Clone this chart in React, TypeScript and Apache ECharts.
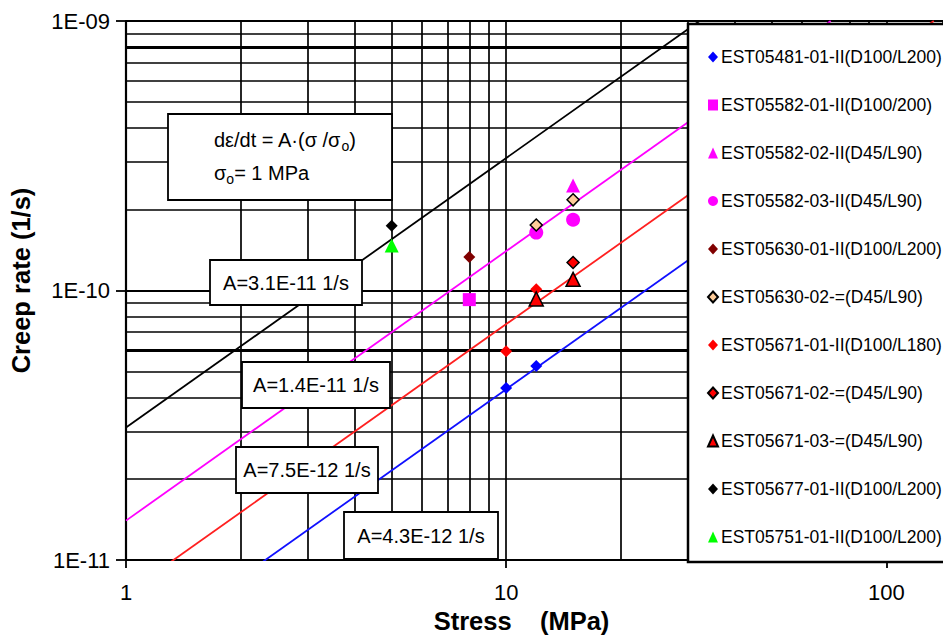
import React, { useEffect, useRef } from 'react';
import * as echarts from 'echarts';

// ---------- data ----------
const seriesNames = [
  'EST05481-01-II(D100/L200)',
  'EST05582-01-II(D100/200)',
  'EST05582-02-II(D45/L90)',
  'EST05582-03-II(D45/L90)',
  'EST05630-01-II(D100/L200)',
  'EST05630-02-=(D45/L90)',
  'EST05671-01-II(D100/L180)',
  'EST05671-02-=(D45/L90)',
  'EST05671-03-=(D45/L90)',
  'EST05677-01-II(D100/L200)',
  'EST05751-01-II(D100/L200)',
];
const seriesStress = [
  [10, 12],
  [8],
  [15],
  [12, 15],
  [8],
  [12, 15],
  [10, 12],
  [15],
  [12, 15],
  [5],
  [5],
];
const seriesRate = [
  [4.35e-11, 5.25e-11],
  [9.25e-11],
  [2.45e-10],
  [1.64e-10, 1.83e-10],
  [1.33e-10],
  [1.75e-10, 2.17e-10],
  [5.95e-11, 1.01e-10],
  [1.27e-10],
  [9.3e-11, 1.1e-10],
  [1.74e-10],
  [1.47e-10],
];
const seriesSymbols = ['diamond', 'rect', 'triangle', 'circle', 'diamond', 'diamond', 'diamond', 'diamond', 'triangle', 'diamond', 'triangle'];
const seriesColors = ['#0000ff', '#ff00ff', '#ff00ff', '#ff00ff', '#800000', '#ffcc99', '#ff0000', '#ff0000', '#ff0000', '#000000', '#00ff00'];
const seriesOutlined = [false, false, false, false, false, true, false, true, true, false, false];

// fitted lines: rate = A * (stress / 1 MPa)
const fitA = [3.1e-11, 1.4e-11, 7.5e-12, 4.3e-12];
const fitLabels = ['A=3.1E-11 1/s', 'A=1.4E-11 1/s', 'A=7.5E-12 1/s', 'A=4.3E-12 1/s'];
const fitColors = ['#000000', '#ff00ff', '#ff2020', '#1010ff'];
const fitStressRange = [1, 141];

// axes
const xRange = [1, 141];
const yRange = [1e-11, 1e-9];
const xMinorGrid = [2, 3, 4, 5, 6, 7, 8, 9, 20, 30, 40, 50, 60, 70, 80, 90];
const yMinorGrid = [2e-11, 3e-11, 4e-11, 5e-11, 6e-11, 7e-11, 8e-11, 9e-11, 2e-10, 3e-10, 4e-10, 5e-10, 6e-10, 7e-10, 8e-10, 9e-10];
const yHeavyGrid = [6e-11, 8e-10];

const FONT = 'Liberation Sans, Arial, Helvetica, sans-serif';

export default function App() {
  const ref = useRef<HTMLDivElement>(null);

  useEffect(() => {
    if (!ref.current) return;
    const chart = echarts.init(ref.current, undefined, { renderer: 'svg' });

    const symbolSize = (s: string) => (s === 'diamond' ? 12 : s === 'rect' ? 13 : 14);

    const scatterSeries = seriesNames.map((name, i) => ({
      name,
      type: 'scatter',
      z: 10,
      symbol: seriesSymbols[i],
      symbolSize: symbolSize(seriesSymbols[i]),
      itemStyle: {
        color: seriesColors[i],
        borderColor: seriesOutlined[i] ? '#000' : seriesColors[i],
        borderWidth: seriesOutlined[i] ? 1.5 : 0,
        opacity: 1,
      },
      data: seriesStress[i].map((s, j) => [s, seriesRate[i][j]]),
    }));

    const fitSeries = fitA.map((a, i) => {
      const sEnd = Math.min(fitStressRange[1], yRange[1] / a);
      return {
        name: fitLabels[i],
        type: 'line',
        z: 5,
        symbol: 'none',
        lineStyle: { color: fitColors[i], width: 1.8 },
        data: [fitStressRange[0], sEnd].map((s) => [s, a * s]),
      };
    });

    const gridLine = { color: '#000', width: 1.7, type: 'solid' };
    const gridSeries = {
      name: 'grid',
      type: 'line',
      z: 1,
      data: [],
      markLine: {
        silent: true,
        z: 1,
        symbol: ['none', 'none'],
        label: { show: false },
        lineStyle: gridLine,
        emphasis: { disabled: true },
        data: [
          ...xMinorGrid.map((v) => [{ coord: [v, yRange[0]] }, { coord: [v, yRange[1]] }]),
          ...yMinorGrid.map((v) => [
            { coord: [xRange[0], v], lineStyle: { ...gridLine, width: yHeavyGrid.includes(v) ? 3 : 1.7 } },
            { coord: [xRange[1], v] },
          ]),
        ],
      },
    };

    const boxText = (x: number, y: number, w: number, h: number, text: string) => [
      {
        type: 'rect',
        z: 8,
        shape: { x, y, width: w, height: h },
        style: { fill: '#fff', stroke: '#000', lineWidth: 1.8 },
      },
      {
        type: 'text',
        z: 9,
        x: x + w / 2,
        y: y + h / 2,
        style: { text, fontSize: 20, fontFamily: FONT, fill: '#000', align: 'center', verticalAlign: 'middle' },
      },
    ];

    const rich = {
      a: { fontSize: 20, fontFamily: FONT, lineHeight: 26, verticalAlign: 'middle', fill: '#000' },
      b: { fontSize: 14, fontFamily: FONT, lineHeight: 14, verticalAlign: 'bottom', fill: '#000' },
    };

    const option = {
      animation: false,
      grid: { left: 124, top: 21, right: 0, bottom: 73, containLabel: false },
      xAxis: {
        type: 'log',
        logBase: 10,
        min: xRange[0],
        max: xRange[1],
        name: 'Stress    (MPa)',
        nameLocation: 'middle',
        nameGap: 48,
        nameTextStyle: { fontSize: 25.5, fontWeight: 'bold', fontFamily: FONT, color: '#000', padding: [0, 26, 0, 0] },
        axisLine: { show: true, lineStyle: { color: '#000', width: 2.2 } },
        axisTick: { show: true, length: 8, inside: false, lineStyle: { color: '#000', width: 1.8 } },
        minorTick: { show: false },
        splitLine: { show: true, lineStyle: { color: '#000', width: 1.7 } },
        axisLabel: {
          fontSize: 22,
          fontFamily: FONT,
          color: '#000',
          margin: 21,
          showMaxLabel: false,
          formatter: (v: number) => {
            const l = Math.log10(v);
            if (Math.abs(l - Math.round(l)) > 1e-6) return '';
            return String(Math.round(v));
          },
        },
      },
      yAxis: {
        type: 'log',
        logBase: 10,
        min: yRange[0],
        max: yRange[1],
        name: 'Creep rate (1/s)',
        nameLocation: 'middle',
        nameGap: 92,
        nameTextStyle: { fontSize: 25.5, fontWeight: 'bold', fontFamily: FONT, color: '#000', padding: [0, 0, 0, 20] },
        axisLine: { show: true, lineStyle: { color: '#000', width: 2.2 } },
        axisTick: { show: true, length: 10, inside: false, lineStyle: { color: '#000', width: 1.8 } },
        splitLine: { show: true, lineStyle: { color: '#000', width: 2.2 } },
        axisLabel: {
          fontSize: 22,
          fontFamily: FONT,
          color: '#000',
          margin: 16,
          formatter: (v: number) => {
            const e = Math.round(Math.log10(v));
            return '1E-' + String(-e).padStart(2, '0');
          },
        },
      },
      legend: {
        orient: 'vertical',
        left: 702,
        top: 43,
        itemWidth: 10,
        itemHeight: 11,
        itemGap: 30,
        selectedMode: false,
        z: 20,
        data: seriesNames,
        textStyle: { fontSize: 17.5, fontFamily: FONT, color: '#000', padding: [0, 0, 0, -2] },
      },
      series: [gridSeries, ...fitSeries, ...scatterSeries],
      graphic: [
        {
          type: 'rect',
          z: 15,
          shape: { x: 688, y: 24, width: 275, height: 538 },
          style: { fill: '#fff', stroke: '#000', lineWidth: 2.5 },
        },
        {
          type: 'rect',
          z: 8,
          shape: { x: 168, y: 114, width: 224, height: 86 },
          style: { fill: '#fff', stroke: '#000', lineWidth: 1.8 },
        },
        {
          type: 'text',
          z: 9,
          x: 214,
          y: 140,
          style: { text: '{a|d\u03b5/dt = A\u00b7(\u03c3 /\u03c3}{b|o}{a|)}', rich, verticalAlign: 'middle', align: 'left' },
        },
        {
          type: 'text',
          z: 9,
          x: 214,
          y: 173,
          style: { text: '{a|\u03c3}{b|o}{a|= 1 MPa}', rich, verticalAlign: 'middle', align: 'left' },
        },
        ...boxText(210, 260, 152, 45, fitLabels[0]),
        ...boxText(242, 362, 148, 46, fitLabels[1]),
        ...boxText(236, 447, 142, 46, fitLabels[2]),
        ...boxText(344, 512, 154, 47, fitLabels[3]),
      ],
    };

    chart.setOption(option as any);
    return () => chart.dispose();
  }, []);

  return (
    <div
      ref={ref}
      style={{ position: 'fixed', left: 0, top: 0, width: 943, height: 639, background: '#fff' }}
    />
  );
}
